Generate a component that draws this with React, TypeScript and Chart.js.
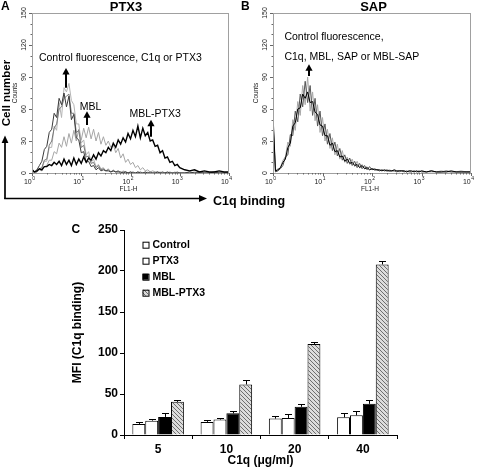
import React, { useEffect, useRef } from 'react';
import { Chart, registerables } from 'chart.js';

Chart.register(...registerables);

const FONT = '"Liberation Sans", Arial, Helvetica, sans-serif';
Chart.defaults.font.family = FONT;

// ---------- Panels A and B: flow cytometry histograms ----------
// FL1-H channel positions, in decades (log10 of fluorescence)
const channels = [
  0, 0.05, 0.1, 0.15, 0.2, 0.25, 0.3, 0.35, 0.4, 0.45,
  0.5, 0.55, 0.6, 0.65, 0.7, 0.75, 0.8, 0.85, 0.9, 0.95,
  1, 1.05, 1.1, 1.15, 1.2, 1.25, 1.3, 1.35, 1.4, 1.45,
  1.5, 1.55, 1.6, 1.65, 1.7, 1.75, 1.8, 1.85, 1.9, 1.95,
  2, 2.05, 2.1, 2.15, 2.2, 2.25, 2.3, 2.35, 2.4, 2.45,
  2.5, 2.55, 2.6, 2.65, 2.7, 2.75, 2.8, 2.85, 2.9, 2.95,
  3, 3.1, 3.2, 3.3, 3.4, 3.5, 3.6, 3.7, 3.8, 3.9,
  4,
];

// Panel A (PTX3) counts
const ptx3PanelControl = [
  4, 1, 3, 7, 11, 22, 25, 38, 41, 56,
  52, 70, 64, 75, 62, 72, 50, 55, 33, 31,
  19, 20, 10, 11, 6, 7, 3, 5, 2, 3,
  2, 2, 1, 2, 1, 1, 1, 0, 1, 0,
  1, 0, 0, 1, 0, 0, 1, 0, 0, 0,
  0, 1, 0, 0, 0, 1, 0, 0, 0, 0,
  0, 0, 1, 0, 0, 0, 0, 1, 0, 0,
  0,
];
const ptx3PanelC1q = [
  2, 1, 1, 4, 5, 12, 13, 26, 30, 42,
  46, 60, 62, 70, 72, 74, 56, 56, 38, 40,
  24, 26, 15, 16, 9, 10, 5, 7, 3, 4,
  2, 3, 1, 2, 1, 2, 0, 1, 1, 0,
  0, 1, 0, 0, 1, 0, 0, 0, 1, 0,
  0, 0, 0, 1, 0, 0, 0, 0, 0, 1,
  0, 0, 0, 0, 1, 0, 0, 0, 0, 0,
  0,
];
const ptx3PanelPtx3 = [
  1, 0, 2, 4, 4, 11, 11, 24, 24, 44,
  40, 66, 52, 80, 76, 84, 68, 64, 46, 46,
  28, 31, 17, 20, 10, 13, 6, 8, 4, 5,
  2, 4, 1, 3, 1, 2, 0, 2, 1, 0,
  1, 0, 0, 1, 0, 0, 0, 1, 0, 0,
  0, 0, 1, 0, 0, 0, 0, 0, 1, 0,
  0, 0, 0, 1, 0, 0, 0, 0, 0, 0,
  1,
];
const ptx3PanelMbl = [
  1, 0, 1, 3, 2, 6, 7, 12, 12, 20,
  18, 28, 24, 34, 25, 37, 28, 40, 30, 41,
  31, 42, 33, 43, 32, 41, 30, 38, 27, 34,
  26, 30, 24, 27, 19, 23, 14, 18, 10, 13,
  8, 10, 5, 7, 3, 5, 2, 3, 1, 2,
  1, 1, 0, 1, 0, 0, 1, 0, 0, 0,
  0, 0, 0, 0, 1, 0, 0, 0, 0, 0,
  0,
];
const ptx3PanelMblPtx3 = [
  3, 1, 2, 4, 3, 6, 6, 8, 7, 10,
  8, 11, 7, 13, 8, 12, 7, 14, 8, 13,
  9, 15, 10, 14, 12, 17, 13, 19, 16, 21,
  19, 24, 21, 28, 24, 31, 27, 33, 29, 37,
  32, 40, 34, 44, 33, 42, 35, 38, 30, 31,
  25, 26, 19, 21, 14, 15, 10, 11, 7, 8,
  5, 3, 2, 3, 1, 2, 1, 1, 2, 1,
  1,
];

// Panel B (SAP) counts
const sapPanelControl = [
  55, 2, 3, 5, 10, 13, 24, 28, 44, 47,
  60, 61, 74, 70, 76, 66, 67, 57, 55, 45,
  44, 35, 35, 26, 28, 20, 21, 15, 16, 11,
  13, 9, 10, 7, 8, 5, 7, 4, 5, 3,
  4, 3, 3, 3, 2, 3, 2, 2, 2, 3,
  2, 2, 2, 2, 1, 2, 2, 1, 2, 1,
  2, 1, 2, 1, 1, 1, 2, 1, 1, 1,
  1,
];
const sapPanelMbl = [
  50, 1, 2, 4, 7, 15, 17, 36, 35, 58,
  48, 74, 62, 86, 66, 82, 54, 70, 44, 58,
  35, 46, 27, 37, 21, 29, 16, 23, 12, 17,
  9, 14, 7, 11, 5, 9, 4, 7, 3, 6,
  3, 4, 3, 2, 3, 2, 3, 2, 2, 2,
  1, 2, 2, 1, 2, 1, 1, 2, 1, 2,
  1, 1, 2, 1, 1, 2, 1, 1, 1, 1,
  1,
];
const sapPanelMblSap = [
  45, 2, 4, 5, 12, 15, 29, 25, 50, 40,
  67, 54, 82, 64, 90, 58, 76, 49, 64, 38,
  52, 30, 41, 23, 33, 17, 27, 13, 21, 10,
  15, 8, 13, 6, 11, 5, 8, 4, 6, 3,
  4, 3, 3, 2, 3, 2, 2, 3, 2, 2,
  2, 1, 2, 2, 1, 2, 1, 2, 1, 1,
  2, 1, 1, 1, 2, 1, 1, 1, 2, 1,
  1,
];

const countTicks = [0, 30, 60, 90, 120, 150];
const decadeTicks = [0, 1, 2, 3, 4];

// ---------- Panel C: MFI bar chart ----------
const concentrations = ['5', '10', '20', '40'];
const seriesNames = ['Control', 'PTX3', 'MBL', 'MBL-PTX3'];
const controlMfi = [13.5, 16, 20, 21.5];
const controlErr = [2, 2.4, 3.2, 5.2];
const ptx3Mfi = [17.5, 18.8, 20.8, 24];
const ptx3Err = [2.5, 2.4, 4.8, 5.6];
const mblMfi = [22, 26.4, 34.4, 38];
const mblErr = [4.4, 2.4, 2.8, 4.4];
const mblPtx3Mfi = [40.4, 61.6, 111, 208];
const mblPtx3Err = [2.4, 5.6, 2.8, 4.5];
const mfiTicks = [0, 50, 100, 150, 200, 250];

type Curve = { label: string; values: number[]; color: string; width: number };
type Note = { lines: string[]; x: number; ys: number[]; arrowX: number; from: number; to: number };
type HistCfg = {
  curves: Curve[];
  padding: { left: number; right: number; top: number; bottom: number };
  title: string;
  titleX: number;
  notes: Note[];
};

function upArrow(ctx: CanvasRenderingContext2D, x: number, yBottom: number, yTip: number) {
  ctx.strokeStyle = '#000';
  ctx.fillStyle = '#000';
  ctx.lineWidth = 2;
  ctx.beginPath();
  ctx.moveTo(x, yBottom);
  ctx.lineTo(x, yTip + 5);
  ctx.stroke();
  ctx.beginPath();
  ctx.moveTo(x, yTip);
  ctx.lineTo(x - 3.6, yTip + 6.5);
  ctx.lineTo(x + 3.6, yTip + 6.5);
  ctx.closePath();
  ctx.fill();
}

function framePlugin(cfg: HistCfg) {
  return {
    id: 'histFrame',
    afterDraw(chart: any) {
      const { ctx, chartArea: a, scales } = chart;
      const xs = scales.x;
      const ys = scales.y;
      ctx.save();
      // frame
      ctx.strokeStyle = '#a0a0a0';
      ctx.lineWidth = 1;
      ctx.strokeRect(a.left + 0.5, a.top + 0.5, a.right - a.left - 1, a.bottom - a.top);
      // y ticks
      ctx.strokeStyle = '#666';
      for (let v = 0; v <= 150; v += 10) {
        const py = Math.round(ys.getPixelForValue(v)) + 0.5;
        const len = countTicks.includes(v) ? 3 : 1.5;
        ctx.beginPath();
        ctx.moveTo(a.left - len, py);
        ctx.lineTo(a.left, py);
        ctx.stroke();
      }
      ctx.fillStyle = '#222';
      ctx.font = `7px ${FONT}`;
      ctx.textAlign = 'center';
      ctx.textBaseline = 'middle';
      countTicks.forEach((v) => {
        const py = ys.getPixelForValue(v);
        ctx.save();
        ctx.translate(a.left - 7.5, py);
        ctx.rotate(-Math.PI / 2);
        ctx.fillText(String(v), 0, 0);
        ctx.restore();
      });
      // Counts label
      ctx.save();
      ctx.font = `6.5px ${FONT}`;
      ctx.translate(a.left - 16.5, (a.top + a.bottom) / 2);
      ctx.rotate(-Math.PI / 2);
      ctx.fillText('Counts', 0, 0);
      ctx.restore();
      // x ticks
      decadeTicks.forEach((d) => {
        const px = Math.round(xs.getPixelForValue(d)) + 0.5;
        ctx.beginPath();
        ctx.moveTo(px, a.bottom);
        ctx.lineTo(px, a.bottom + 3);
        ctx.stroke();
        if (d < 4) {
          for (let m = 2; m <= 9; m++) {
            const mx = Math.round(xs.getPixelForValue(d + Math.log10(m))) + 0.5;
            ctx.beginPath();
            ctx.moveTo(mx, a.bottom);
            ctx.lineTo(mx, a.bottom + 1.5);
            ctx.stroke();
          }
        }
        const tx = xs.getPixelForValue(d);
        ctx.textBaseline = 'alphabetic';
        ctx.font = `7px ${FONT}`;
        ctx.textAlign = 'right';
        ctx.fillText('10', tx - 0.3, a.bottom + 10.5);
        ctx.font = `5px ${FONT}`;
        ctx.textAlign = 'left';
        ctx.fillText(String(d), tx + 0.2, a.bottom + 7);
      });
      ctx.font = `6.5px ${FONT}`;
      ctx.textAlign = 'center';
      ctx.textBaseline = 'alphabetic';
      ctx.fillText('FL1-H', (a.left + a.right) / 2 - 2, a.bottom + 18);
      // title
      ctx.fillStyle = '#000';
      ctx.font = `bold 13px ${FONT}`;
      ctx.textAlign = 'center';
      ctx.fillText(cfg.title, cfg.titleX, 11);
      // annotations
      ctx.font = `10.5px ${FONT}`;
      ctx.textAlign = 'left';
      ctx.textBaseline = 'middle';
      cfg.notes.forEach((n) => {
        n.lines.forEach((line, i) => {
          ctx.fillStyle = '#000';
          ctx.fillText(line, xs.getPixelForValue(n.x), ys.getPixelForValue(n.ys[i]));
        });
        upArrow(ctx, Math.round(xs.getPixelForValue(n.arrowX)), ys.getPixelForValue(n.from), ys.getPixelForValue(n.to));
      });
      ctx.restore();
    },
  };
}

function makeHistogram(canvas: HTMLCanvasElement, cfg: HistCfg) {
  return new Chart(canvas, {
    type: 'line',
    data: {
      datasets: cfg.curves.map((c) => ({
        label: c.label,
        data: channels.map((ch, i) => ({ x: ch, y: c.values[i] ?? 0 })),
        borderColor: c.color,
        borderWidth: c.width,
        pointRadius: 0,
        tension: 0,
        fill: false,
      })),
    },
    options: {
      animation: false,
      responsive: false,
      devicePixelRatio: 1,
      events: [],
      layout: { padding: cfg.padding },
      plugins: { legend: { display: false }, tooltip: { enabled: false } },
      scales: {
        x: { type: 'linear', min: 0, max: 4, display: false },
        y: { type: 'linear', min: 0, max: 150, display: false },
      },
    } as any,
    plugins: [framePlugin(cfg) as any],
  });
}

function hatchPattern(): CanvasPattern | string {
  const c = document.createElement('canvas');
  c.width = 4;
  c.height = 4;
  const g = c.getContext('2d');
  if (!g) return '#bbb';
  g.fillStyle = '#dcdcdc';
  g.fillRect(0, 0, 4, 4);
  g.strokeStyle = '#6e6e6e';
  g.lineWidth = 1;
  g.beginPath();
  g.moveTo(0, 0);
  g.lineTo(4, 4);
  g.moveTo(-2, 2);
  g.lineTo(2, 6);
  g.moveTo(2, -2);
  g.lineTo(6, 2);
  g.stroke();
  return g.createPattern(c, 'repeat') || '#bbb';
}

function makeBars(canvas: HTMLCanvasElement) {
  const hatch = hatchPattern();
  const values = [controlMfi, ptx3Mfi, mblMfi, mblPtx3Mfi];
  const errors = [controlErr, ptx3Err, mblErr, mblPtx3Err];
  const fills: any[] = ['#ffffff', '#ffffff', '#000000', hatch];
  const tickFont = { family: FONT, size: 12, weight: 'bold' as const };

  const extras = {
    id: 'barExtras',
    afterDatasetsDraw(chart: any) {
      const { ctx, chartArea: a, scales } = chart;
      const y = scales.y;
      ctx.save();
      ctx.strokeStyle = '#000';
      ctx.lineWidth = 1;
      values.forEach((vals, di) => {
        const meta = chart.getDatasetMeta(di);
        meta.data.forEach((bar: any, i: number) => {
          const top = Math.round(y.getPixelForValue(vals[i] + errors[di][i])) + 0.5;
          const x = Math.round(bar.x) + 0.5;
          ctx.beginPath();
          ctx.moveTo(x, bar.y);
          ctx.lineTo(x, top);
          ctx.moveTo(x - 3.5, top);
          ctx.lineTo(x + 3.5, top);
          ctx.stroke();
        });
      });
      // legend
      ctx.font = `bold 10.5px ${FONT}`;
      ctx.textAlign = 'left';
      ctx.textBaseline = 'middle';
      seriesNames.forEach((name, i) => {
        const cy = a.top + 14.7 + i * 16;
        const bx = a.left + 18.5;
        ctx.fillStyle = fills[i];
        ctx.fillRect(bx, cy - 3, 6, 6);
        ctx.strokeStyle = '#000';
        ctx.strokeRect(bx + 0.5, cy - 3 + 0.5, 6, 6);
        ctx.fillStyle = '#000';
        ctx.fillText(name, bx + 10, cy + 0.5);
      });
      ctx.restore();
    },
  };

  return new Chart(canvas, {
    type: 'bar',
    data: {
      labels: concentrations,
      datasets: seriesNames.map((name, i) => ({
        label: name,
        data: values[i],
        backgroundColor: fills[i],
        borderColor: '#000',
        borderWidth: 1,
        borderSkipped: 'bottom',
        categoryPercentage: 0.755,
        barPercentage: 1,
      })),
    },
    options: {
      animation: false,
      responsive: false,
      devicePixelRatio: 1,
      events: [],
      layout: { padding: { left: 70, right: 80, top: 20, bottom: 0 } },
      plugins: { legend: { display: false }, tooltip: { enabled: false } },
      scales: {
        x: {
          grid: { display: true, drawOnChartArea: false, drawTicks: true, tickLength: 4, color: '#000', offset: true },
          border: { display: true, color: '#000', width: 1 },
          ticks: { color: '#000', font: tickFont, padding: 3 },
          title: { display: true, text: 'C1q (μg/ml)', color: '#000', font: tickFont, padding: 0 },
          afterFit: (s: any) => {
            s.height = 33;
          },
        },
        y: {
          min: 0,
          max: 250,
          afterBuildTicks: (s: any) => {
            s.ticks = mfiTicks.map((v) => ({ value: v }));
          },
          grid: { display: true, drawOnChartArea: false, drawTicks: true, tickLength: 4, color: '#000' },
          border: { display: true, color: '#000', width: 1 },
          ticks: { color: '#000', font: tickFont, padding: 2 },
          title: { display: true, text: 'MFI (C1q binding)', color: '#000', font: tickFont, padding: 0 },
          afterFit: (s: any) => {
            s.width = 54;
          },
        },
      },
    } as any,
    plugins: [extras as any],
  });
}

export default function App() {
  const aRef = useRef<HTMLCanvasElement>(null);
  const bRef = useRef<HTMLCanvasElement>(null);
  const cRef = useRef<HTMLCanvasElement>(null);

  useEffect(() => {
    const charts: Chart[] = [];
    if (aRef.current) {
      charts.push(
        makeHistogram(aRef.current, {
          curves: [
            { label: 'MBL-PTX3', values: ptx3PanelMblPtx3, color: '#000000', width: 1.4 },
            { label: 'Control fluorescence', values: ptx3PanelControl, color: '#3a3a3a', width: 1 },
            { label: 'C1q', values: ptx3PanelC1q, color: '#777777', width: 1 },
            { label: 'PTX3', values: ptx3PanelPtx3, color: '#b4b4b4', width: 1 },
            { label: 'MBL', values: ptx3PanelMbl, color: '#a6a6a6', width: 1 },
          ],
          padding: { left: 32, right: 11, top: 13, bottom: 22 },
          title: 'PTX3',
          titleX: 126,
          notes: [
            { lines: ['Control fluorescence, C1q or PTX3'], x: 0.14, ys: [108], arrowX: 0.7, from: 80, to: 98.5 },
            { lines: ['MBL'], x: 0.97, ys: [61.5], arrowX: 1.12, from: 45, to: 58 },
            { lines: ['MBL-PTX3'], x: 1.98, ys: [55], arrowX: 2.42, from: 34, to: 50 },
          ],
        })
      );
    }
    if (bRef.current) {
      charts.push(
        makeHistogram(bRef.current, {
          curves: [
            { label: 'Control / C1q', values: sapPanelControl, color: '#000000', width: 1 },
            { label: 'MBL / SAP', values: sapPanelMbl, color: '#555555', width: 1 },
            { label: 'MBL-SAP', values: sapPanelMblSap, color: '#a8a8a8', width: 1 },
          ],
          padding: { left: 33, right: 6, top: 13, bottom: 22 },
          title: 'SAP',
          titleX: 133.5,
          notes: [
            {
              lines: ['Control fluorescence,', 'C1q, MBL, SAP or MBL-SAP'],
              x: 0.23,
              ys: [127, 108.5],
              arrowX: 0.73,
              from: 91,
              to: 102,
            },
          ],
        })
      );
    }
    if (cRef.current) charts.push(makeBars(cRef.current));
    return () => charts.forEach((c) => c.destroy());
  }, []);

  const bold = { fontFamily: FONT, fontWeight: 'bold' as const };

  return (
    <div style={{ position: 'absolute', left: 0, top: 0, width: 477, height: 468, background: '#fff', overflow: 'hidden' }}>
      <canvas ref={aRef} width={240} height={195} style={{ position: 'absolute', left: 0, top: 0, width: 240, height: 195 }} />
      <canvas ref={bRef} width={237} height={195} style={{ position: 'absolute', left: 240, top: 0, width: 237, height: 195 }} />
      <canvas ref={cRef} width={477} height={258} style={{ position: 'absolute', left: 0, top: 210, width: 477, height: 258 }} />
      <svg width={477} height={468} style={{ position: 'absolute', left: 0, top: 0, pointerEvents: 'none' }}>
        <text x={1} y={10} fontSize={12} {...bold}>A</text>
        <text x={241} y={10} fontSize={12} {...bold}>B</text>
        <text x={71.5} y={232.5} fontSize={12} {...bold}>C</text>
        <text transform="translate(9.5,93) rotate(-90)" textAnchor="middle" fontSize={11.5} {...bold}>Cell number</text>
        <line x1={5} y1={141} x2={5} y2={199} stroke="#000" strokeWidth={1.7} />
        <line x1={4.2} y1={198.5} x2={200} y2={198.5} stroke="#000" strokeWidth={1.7} />
        <polygon points="5,135.5 1.6,143 8.4,143" fill="#000" />
        <polygon points="207,198.5 199,195 199,202" fill="#000" />
        <text x={213} y={205} fontSize={12.5} {...bold}>C1q binding</text>
      </svg>
    </div>
  );
}
